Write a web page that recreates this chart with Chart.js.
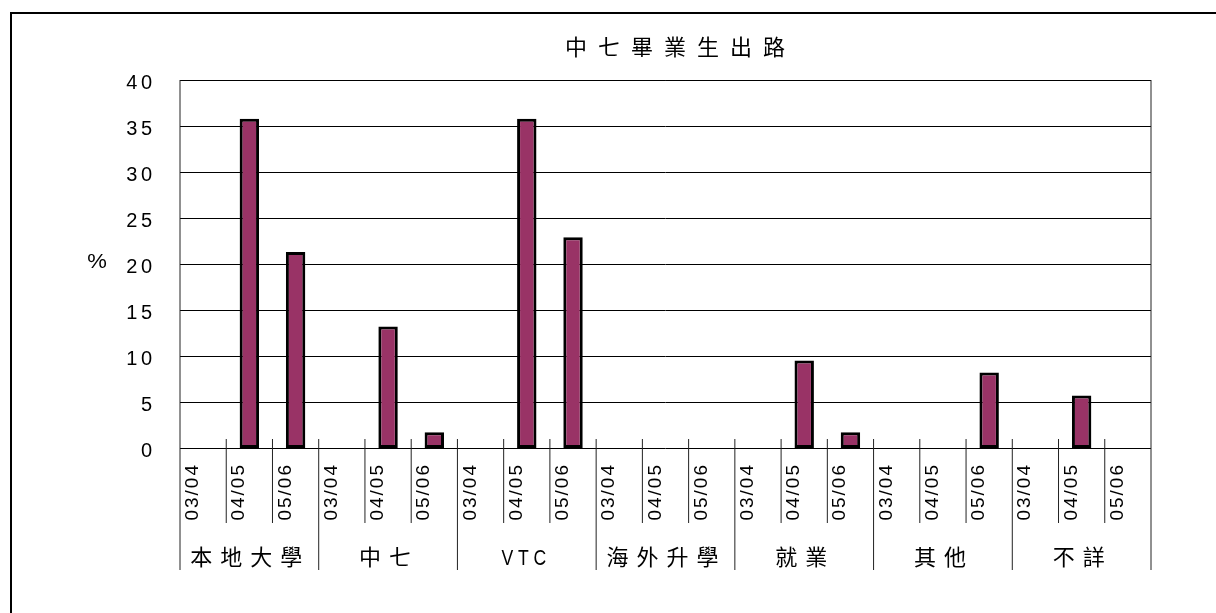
<!DOCTYPE html>
<html>
<head>
<meta charset="utf-8">
<script src="https://cdn.jsdelivr.net/npm/chart.js@4/dist/chart.umd.min.js"></script>
<style>
html,body{margin:0;padding:0;background:#fff;}
canvas{display:block;}
</style>
</head>
<body>
<canvas id="c" width="1216" height="613"></canvas>
<script>
// ---- data ----
const chartTitle = '中七畢業生出路';
const yAxisTitle = '%';
const groups = ['本地大學', '中七', 'VTC', '海外升學', '就業', '其他', '不詳'];
const years = ['03/04', '04/05', '05/06'];
const universityLocal = [null, 35.8, 21.3];
const form7 = [null, 13.2, 1.7];
const vtc = [null, 35.8, 22.9];
const overseas = [null, null, null];
const employment = [null, 9.5, 1.7];
const others = [null, null, 8.2];
const unknown = [null, 5.7, null];
const yTicks = [0, 5, 10, 15, 20, 25, 30, 35, 40];

const groupValues = [universityLocal, form7, vtc, overseas, employment, others, unknown];
const labels = [];
const values = [];
groups.forEach((g, gi) => {
  years.forEach((y, yi) => {
    labels.push(g + ' ' + y);
    values.push(groupValues[gi][yi]);
  });
});

const LATIN = '"Liberation Sans", Arial, sans-serif';
const CJK = '"Noto Sans CJK TC", "Noto Sans CJK SC", sans-serif';

// draw text char by char with spacing, optional scale & rotation
function drawText(ctx, text, x, y, o) {
  ctx.save();
  ctx.translate(x, y);
  if (o.rotate) ctx.rotate(o.rotate);
  ctx.scale(o.sx || 1, o.sy || 1);
  ctx.font = o.font;
  ctx.fillStyle = o.color || '#000';
  ctx.textBaseline = 'alphabetic';
  ctx.textAlign = 'left';
  const sp = o.spacing || 0;
  const chars = Array.from(text);
  const widths = chars.map(c => ctx.measureText(c).width);
  const total = widths.reduce((a, b) => a + b, 0) + sp * (chars.length - 1);
  let start = 0;
  if (o.align === 'center') start = -total / 2;
  else if (o.align === 'right') start = -total;
  let cx = start;
  chars.forEach((c, i) => { ctx.fillText(c, cx, 0); cx += widths[i] + sp; });
  ctx.restore();
}

const decor = {
  id: 'decor',
  beforeDraw(chart) {
    const ctx = chart.ctx;
    ctx.save();
    ctx.fillStyle = '#fff';
    ctx.fillRect(0, 0, chart.width, chart.height);
    ctx.strokeStyle = '#000';
    ctx.lineWidth = 2;
    ctx.strokeRect(11, 13, 1300, 700);
    ctx.restore();
  },
  beforeDatasetsDraw(chart) {
    const ctx = chart.ctx;
    const a = chart.chartArea;
    const ys = chart.scales.y;
    ctx.save();
    ctx.strokeStyle = '#000';
    ctx.lineWidth = 1;
    yTicks.forEach(v => {
      const py = Math.round(ys.getPixelForValue(v)) + 0.5;
      ctx.beginPath();
      ctx.moveTo(a.left, py);
      ctx.lineTo(a.right, py);
      ctx.stroke();
    });
    ctx.restore();
  },
  afterDatasetsDraw(chart) {
    const ctx = chart.ctx;
    const a = chart.chartArea;
    const xs = chart.scales.x;
    const ys = chart.scales.y;
    const n = labels.length;
    const slot = (a.right - a.left) / n;
    ctx.save();
    ctx.strokeStyle = '#000';
    ctx.lineWidth = 1;
    const top = Math.round(a.top) + 0.5;
    ctx.beginPath();
    ctx.moveTo(a.left, top); ctx.lineTo(a.right, top);
    ctx.stroke();
    const base = Math.round(ys.getPixelForValue(0));
    for (let i = 0; i <= n; i++) {
      const px = xs.getPixelForValue(0) - slot / 2 + i * slot;
      const isGroup = i % years.length === 0;
      const y0 = (i === 0 || i === n) ? a.top : base - 9;
      const y1 = isGroup ? 570 : 523;
      ctx.strokeStyle = '#222';
      ctx.beginPath();
      ctx.moveTo(px, y0); ctx.lineTo(px, y1);
      ctx.stroke();
    }
    ctx.restore();

    // y tick labels
    yTicks.forEach(v => {
      const py = ys.getPixelForValue(v);
      drawText(ctx, String(v), 152, py + 8.5, {font: '20px ' + LATIN, spacing: 3.5, align: 'right'});
    });
    // % label
    drawText(ctx, yAxisTitle, 97, 268, {font: '21px ' + LATIN, sx: 1.05, align: 'center'});

    // x year labels (rotated)
    for (let i = 0; i < n; i++) {
      const px = xs.getPixelForValue(i);
      drawText(ctx, years[i % years.length], px - 5, 465, {font: '19px ' + LATIN, rotate: -Math.PI / 2, spacing: 2, align: 'right'});
    }
    // group labels
    groups.forEach((g, gi) => {
      const cx = xs.getPixelForValue(gi * years.length + 1) - 3;
      if (/^[A-Za-z]+$/.test(g)) {
        drawText(ctx, g, cx, 565, {font: '22px ' + LATIN, sx: 0.8, spacing: 6, align: 'center'});
      } else {
        drawText(ctx, g, cx, 565, {font: '22px ' + CJK, spacing: 8, align: 'center'});
      }
    });
    // title
    drawText(ctx, chartTitle, 675, 55, {font: '22px ' + CJK, spacing: 11, align: 'center'});
  }
};

new Chart(document.getElementById('c'), {
  type: 'bar',
  data: {
    labels: labels,
    datasets: [{
      data: values,
      backgroundColor: '#993366',
      borderColor: '#000',
      borderWidth: 3,
      borderSkipped: false,
      barPercentage: 0.42,
      categoryPercentage: 1.0
    }]
  },
  options: {
    responsive: false,
    devicePixelRatio: 1,
    animation: false,
    layout: {padding: {left: 180, right: 65, top: 80, bottom: 165}},
    plugins: {legend: {display: false}, tooltip: {enabled: false}, title: {display: false}},
    scales: {
      x: {display: false, offset: true},
      y: {display: false, min: 0, max: 40, ticks: {stepSize: 5}}
    }
  },
  plugins: [decor]
});
</script>
</body>
</html>
